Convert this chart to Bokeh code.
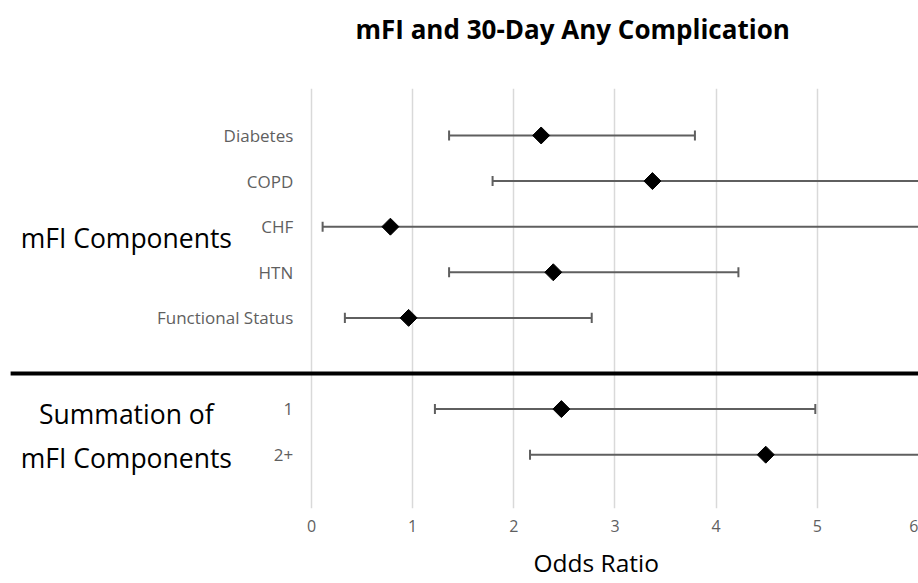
import math
from bokeh.plotting import figure
from bokeh.models import Range1d, FixedTicker, Label, ColumnDataSource, Title
from bokeh.core.properties import value
from bokeh.embed import file_html
from bokeh.resources import INLINE

# ---- data ----
components = ["Diabetes", "COPD", "CHF", "HTN", "Functional Status"]
comp_or = [2.27, 3.37, 0.78, 2.39, 0.96]
comp_lo = [1.36, 1.79, 0.11, 1.36, 0.33]
comp_hi = [3.79, 6.40, 7.10, 4.22, 2.77]

summation = ["1", "2+"]
sum_or = [2.47, 4.49]
sum_lo = [1.22, 2.16]
sum_hi = [4.98, 9.20]

x_ticks = [0, 1, 2, 3, 4, 5, 6]

title_text = "mFI and 30-Day Any Complication"
x_title = "Odds Ratio"
group1 = "mFI Components"
group2 = ["Summation of", "mFI Components"]

# ---- layout of rows (component rows on top, gap, then summation rows) ----
n_sum = len(summation)
sum_y = [n_sum - 1 - i for i in range(n_sum)]                 # 1, 0
comp_y = [n_sum + 1 + (len(components) - 1 - i) for i in range(len(components))]  # 7..3

labels = components + summation
ys = comp_y + sum_y
ors = comp_or + sum_or
los = comp_lo + sum_lo
his = comp_hi + sum_hi

src = ColumnDataSource(dict(label=labels, y=ys, est=ors, lo=los, hi=his,
                            cap0=[v - 0.11 for v in ys], cap1=[v + 0.11 for v in ys]))

FONT = "Open Sans"
GRAY = "#5f5f5f"

x_start = -3.074
p = figure(frame_width=918, frame_height=420,
           x_range=Range1d(x_start, 6), y_range=Range1d(-1.18, 8.03),
           output_backend="svg", toolbar_location=None,
           y_axis_location=None,
           min_border_left=0, min_border_right=0,
           min_border_top=88, min_border_bottom=75)
p.outline_line_color = None
p.background_fill_color = "white"
p.border_fill_color = "white"

# blank spacer panel between the frame and the title (pushes the title up)
p.add_layout(Title(text=" ", standoff=21, text_font=FONT,
                   text_font_size="10px"), "above")
# title (left-aligned with offset so it sits over the data area)
p.add_layout(Title(text=title_text, align="left", offset=355, standoff=10,
                   text_font=FONT, text_font_size="26px",
                   text_font_style="bold", text_color="black"), "above")

# x axis
p.xaxis.ticker = FixedTicker(ticks=x_ticks)
p.xaxis.axis_line_color = None
p.xaxis.major_tick_line_color = None
p.xaxis.minor_tick_line_color = None
p.xaxis.major_label_standoff = 5
p.xaxis.major_label_text_font = FONT
p.xaxis.major_label_text_font_size = "16px"
p.xaxis.major_label_text_color = GRAY

p.add_layout(Title(text=x_title, align="left", offset=533, standoff=18,
                   text_font=FONT, text_font_size="24.5px",
                   text_font_style="normal", text_color="black"), "below")

p.xgrid.ticker = FixedTicker(ticks=x_ticks)
p.xgrid.grid_line_color = "#d9d9d9"
p.xgrid.grid_line_width = 1.5
p.ygrid.grid_line_color = None

# separator line between the two groups
sep_y = 1.78
p.segment(x0=[x_start + 0.1], x1=[6], y0=[sep_y], y1=[sep_y],
          line_color="black", line_width=4)

# error bars
p.segment(x0="lo", x1="hi", y0="y", y1="y", source=src,
          line_color=GRAY, line_width=2)
p.segment(x0="lo", x1="lo", y0="cap0", y1="cap1", source=src,
          line_color=GRAY, line_width=2)
p.segment(x0="hi", x1="hi", y0="cap0", y1="cap1", source=src,
          line_color=GRAY, line_width=2)

# point estimates
p.scatter(x="est", y="y", source=src, marker="square", size=12,
          angle=math.pi / 4, fill_color="black", line_color="black")

# row labels
p.text(x=-0.18, y="y", text="label", source=src,
       text_align="right", text_baseline="middle",
       text_font=value(FONT), text_font_size="17px", text_color=GRAY)

# group labels
p.add_layout(Label(x=-1.83, y=4.76, text=group1, text_align="center",
                   text_baseline="middle", text_font=FONT,
                   text_font_size="26.5px", text_color="black"))
p.add_layout(Label(x=-1.83, y=0.9, text=group2[0], text_align="center",
                   text_baseline="middle", text_font=FONT,
                   text_font_size="26.5px", text_color="black"))
p.add_layout(Label(x=-1.83, y=-0.07, text=group2[1], text_align="center",
                   text_baseline="middle", text_font=FONT,
                   text_font_size="26.5px", text_color="black"))

open("out.html", "w").write(file_html(p, INLINE))
